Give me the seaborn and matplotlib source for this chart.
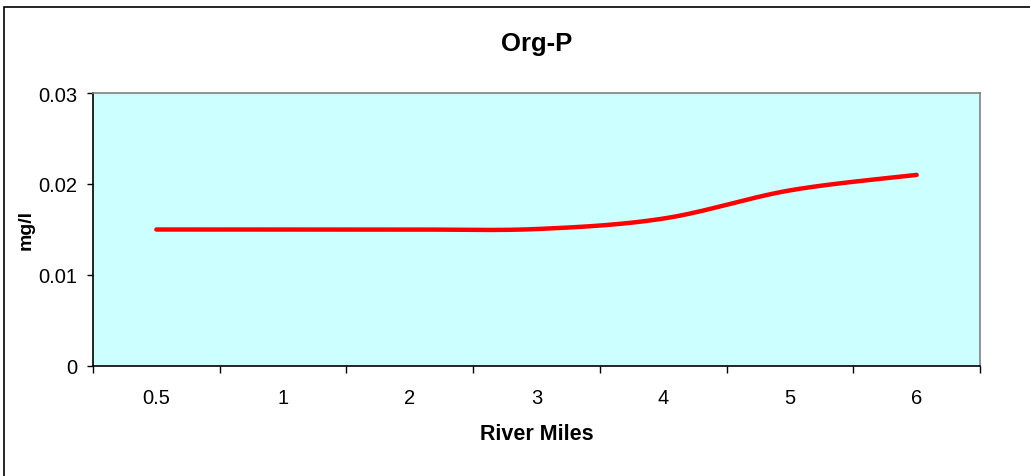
import numpy as np
import pandas as pd
import seaborn as sns
import matplotlib
matplotlib.use("Agg")
import matplotlib.pyplot as plt
from matplotlib.patches import Rectangle

categories = ["0.5", "1", "2", "3", "4", "5", "6"]
values = [0.015, 0.015, 0.015, 0.01505, 0.0162, 0.0193, 0.0210]

sns.set_style("white")
plt.rcParams['font.family'] = ['Liberation Sans', 'DejaVu Sans']
plt.rcParams['text.color'] = 'black'
plt.rcParams['axes.labelcolor'] = 'black'
plt.rcParams['xtick.color'] = 'black'
plt.rcParams['ytick.color'] = 'black'

# Excel-style smoothed curve (Catmull-Rom / Bezier through the data points)
xs = np.arange(len(values), dtype=float)
ys = np.array(values)
px = np.concatenate([[xs[0]], xs, [xs[-1]]])
py = np.concatenate([[ys[0]], ys, [ys[-1]]])
cx, cy = [], []
t = np.linspace(0, 1, 40)
for i in range(1, len(px) - 2):
    p0 = np.array([px[i], py[i]])
    p3 = np.array([px[i + 1], py[i + 1]])
    p1 = p0 + (np.array([px[i + 1], py[i + 1]]) - np.array([px[i - 1], py[i - 1]])) / 6
    p2 = p3 - (np.array([px[i + 2], py[i + 2]]) - np.array([px[i], py[i]])) / 6
    bx = (1 - t) ** 3 * p0[0] + 3 * (1 - t) ** 2 * t * p1[0] + 3 * (1 - t) * t ** 2 * p2[0] + t ** 3 * p3[0]
    by = (1 - t) ** 3 * p0[1] + 3 * (1 - t) ** 2 * t * p1[1] + 3 * (1 - t) * t ** 2 * p2[1] + t ** 3 * p3[1]
    cx.extend(bx)
    cy.extend(by)
df = pd.DataFrame({"x": cx, "y": cy})

fig = plt.figure(figsize=(10.3, 4.77), dpi=100)
fig.patches.append(Rectangle((4 / 1030, -0.1), 1.2, 1.1 - 8 / 477, transform=fig.transFigure,
                             fill=False, edgecolor="black", linewidth=1.2))
ax = fig.add_axes([93 / 1030, 1 - 367 / 477, (980 - 93) / 1030, 273 / 477])
ax.set_facecolor("#CCFFFF")

sns.lineplot(data=df, x="x", y="y", ax=ax, color="#FF0000", linewidth=3.2,
             sort=False, estimator=None, solid_capstyle="round")

ax.set_xlim(-0.5, len(categories) - 0.5)
ax.set_ylim(0, 0.03)
ax.set_yticks([0, 0.01, 0.02, 0.03])
ax.set_yticklabels(["0", "0.01", "0.02", "0.03"], fontsize=14.5)
ax.set_xticks(np.arange(len(categories) + 1) - 0.5)
ax.set_xticklabels([])
ax.set_xticks(np.arange(len(categories)), minor=True)
ax.set_xticklabels(categories, minor=True, fontsize=14.5)
ax.tick_params(axis="x", which="major", direction="out", length=5, width=1, color="black", bottom=True)
ax.tick_params(axis="x", which="minor", length=0, pad=15.5, bottom=True)
ax.tick_params(axis="y", direction="out", length=4.5, width=1, color="black", left=True, pad=7)

for s in ["top", "right"]:
    ax.spines[s].set_color("#808080")
    ax.spines[s].set_linewidth(1.2)
for s in ["left", "bottom"]:
    ax.spines[s].set_color("black")
    ax.spines[s].set_linewidth(1.2)

ax.set_xlabel("River Miles", fontsize=15.5, fontweight="bold", labelpad=12)
ax.set_ylabel("mg/l", fontsize=14, fontweight="bold", labelpad=2)
ax.set_title("Org-P", fontsize=18.5, fontweight="bold", pad=31)

fig.savefig("out.png", dpi=100)
